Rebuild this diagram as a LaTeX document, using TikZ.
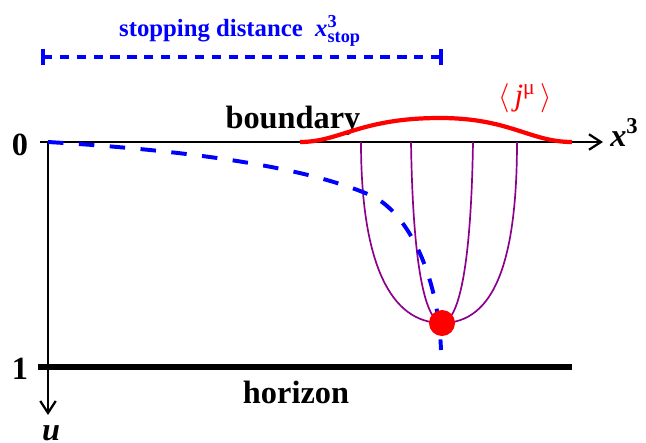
\documentclass[tikz,border=0pt]{standalone}
\usepackage{fontspec}
\setmainfont{Liberation Serif}
\usetikzlibrary{arrows.meta}
\definecolor{plum}{RGB}{140,0,140}
\newcommand{\xstop}{\textit{x}$^{\mbox{\fontsize{13}{14}\selectfont\bfseries 3}}_{\mbox{\fontsize{13}{14}\selectfont\bfseries stop}}$}
\begin{document}
\begin{tikzpicture}[x=0.025cm, y=-0.025cm,
	axis/.style={draw=black, line width=2pt},
	tip/.style={-{Straight Barb[length=8.5pt, width=11pt, line width=1.6pt]}},
	lbl/.style={font=\fontsize{23}{26}\selectfont\bfseries, inner sep=0pt, anchor=base},
	path/.style={draw=blue, line width=2.8pt, dash pattern=on 11pt off 11pt},
	bar/.style={draw=blue, line width=3pt, dash pattern=on 6.5pt off 5.5pt},
	current/.style={draw=red, line width=3pt},
	string/.style={draw=plum, line width=1.2pt},
]
\useasboundingbox (0,0) rectangle (646,442);
% axes
\coordinate (b0) at (40,142);
\coordinate (o) at (48,142);
\coordinate (xe) at (603,142);
\coordinate (ue) at (48,415);
\coordinate (h0) at (38,367);
\coordinate (h1) at (572,367);
\draw[axis, tip] (b0) -- (xe);
\draw[axis, tip] (o) -- (ue);
\draw[draw=black, line width=4pt] (h0) -- (h1);
\node[lbl] (zero) at (20,155) {0};
\node[lbl] (one) at (20,379) {1};
\node[lbl] (u) at (51,440) {\textit{u}};
\node[lbl, anchor=base west] (x3) at (610,146) {\textit{x}\textsuperscript{3}};
\node[lbl] (bnd) at (293,128) {boundary};
\node[lbl] (hor) at (296,403) {horizon};
% stopping distance
\coordinate (s0) at (43,57);
\coordinate (s1) at (441,57);
\draw[bar] (s0) -- (s1);
\foreach \e in {s0,s1}
	\draw[draw=blue, line width=3pt] ([yshift=-6pt]\e) -- ([yshift=6pt]\e);
\node[lbl, text=blue, font=\fontsize{17.6}{20}\selectfont\bfseries] (stop) at (240,36) {stopping distance~~\xstop};
% current on the boundary
\coordinate (j0) at (300,142);
\coordinate (jm) at (440,118);
\coordinate (j1) at (572,142);
\draw[current] (j0) .. controls (340,142) and (360,118) .. (jm)
	.. controls (510,118) and (530,142) .. (j1);
\node[lbl, text=red, font=\fontsize{22}{24}\selectfont] (jmu) at (525,105) {$\langle$\,\textit{j}\textsuperscript{μ}\,$\rangle$};
% strings
\coordinate (p1) at (361,142);
\coordinate (p2) at (411,142);
\coordinate (p3) at (473,142);
\coordinate (p4) at (517,142);
\coordinate (q) at (442,323);
\draw[string] (p1) .. controls (361,262) and (390,323) .. (q)
	.. controls (494,323) and (517,262) .. (p4);
\draw[string] (p2) .. controls (413,272) and (426,321) .. (q)
	.. controls (458,321) and (471,272) .. (p3);
% trajectory
\coordinate (k) at (370,195);
\coordinate (e) at (441,350);
\draw[path] (o) .. controls (180,150) and (300,165) .. (k)
	.. controls (405,210) and (438,270) .. (e);
\node[circle, fill=red, minimum size=18.5pt, inner sep=0pt] (dot) at (q) {};
\end{tikzpicture}
\end{document}
